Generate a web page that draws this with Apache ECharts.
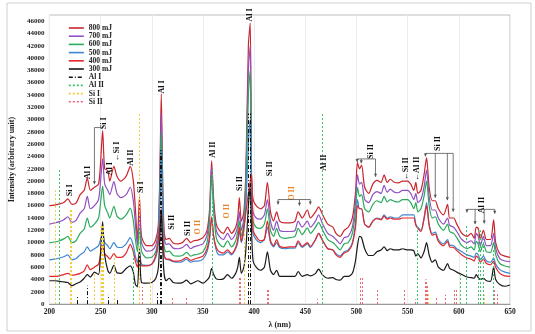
<!DOCTYPE html>
<html><head><meta charset="utf-8">
<script src="https://cdn.jsdelivr.net/npm/echarts@6/dist/echarts.min.js"></script>
<style>html,body{margin:0;padding:0;background:#fff}#c{width:535px;height:334px}</style>
</head><body><div id="c"></div>
<script>
// ---- data ----
const wl = [200,205,210,214,218,222,226,230,234,237,240,244,248,250,252,254,257,259,263,266,270,275,279,282,284,286,288,290,295,300,304,306.5,308.2,309.3,310.5,312,314,317,321,326,330,334,338,341,345,350,354,356.5,358.5,360.5,363,366,370,374,378,382,384,385.6,387.5,390,392,394.4,396.2,397.5,399,402,406,410,413,416,419,422,425,430,435,440,443,447,452,455,460,463,467,472,477,480,484,488,492,496,499,501,503,505,508,512,516,520,524,527,530,533,537,541,545,550,553,556,558,560,563,566,568.5,571,574,577,580,585,589,591,595,598,603,608,612,615,617,619,621,624,627,631,634,636,640,645,650];
const e800 = [16000,16100,16300,16500,17100,16200,16400,17800,18500,20500,18500,19000,19500,23000,28200,22000,21700,20000,22400,20800,20000,20800,22400,20000,15500,10500,17400,11000,9500,9500,10500,13000,24000,34200,22000,12000,10500,10700,9900,9800,10000,10700,10000,10300,10400,10800,12000,15500,23300,17000,13000,12000,11500,12500,11500,12500,14000,17300,13500,15000,22000,42000,45700,21000,17000,16000,15500,16000,19800,15000,13500,15000,13500,13200,13200,13500,15000,14000,15300,14000,15000,15800,14500,13000,12500,11500,11000,12000,12500,14000,18000,23000,22000,22600,19000,18000,19500,20100,19800,21000,19800,20300,19800,19700,20000,20000,19500,18500,19800,18000,18500,21000,23800,19000,16800,16800,15500,14500,16200,14000,14000,13000,11500,11000,11500,10700,12500,12300,10500,12000,10500,10500,13700,10000,8200,7800,7600];
const e700 = [13000,13200,13400,13700,14200,13300,13600,14800,15500,17500,15500,16000,17000,20000,23700,19500,18500,17800,19900,18000,17300,17800,19000,16800,13000,9500,14500,10000,8600,8700,9600,12000,22000,31000,20000,11000,9700,9800,9100,9000,9200,9700,9000,9300,9500,9800,11200,14500,22300,16000,12000,11000,10500,11500,10500,11500,12800,15000,12000,14000,20000,38000,42000,20000,15000,14000,13800,14500,17000,13500,12000,13500,12000,11800,11800,12000,13500,12500,13500,12500,13500,14500,13000,11500,11000,10500,9800,10800,11000,12500,16500,21000,19500,19800,17000,16500,17800,18300,18000,19300,18200,18700,18200,18100,18500,18500,18000,17000,18000,16500,17000,19000,21800,17500,15300,15300,14000,13000,14000,12800,12500,11800,10500,10000,10300,9800,11500,11000,9500,11000,9500,9500,11500,9000,7400,7000,6900];
const e600 = [10000,10100,10300,10600,11000,10000,10300,11500,12200,14000,12500,13000,14000,16500,19200,16000,14800,14000,15900,14300,13800,14500,15600,13500,10500,8500,12500,8600,7500,7600,8600,11000,20000,28000,18000,9500,8500,8600,7900,7800,7900,8400,7800,8000,8100,8500,10000,13500,21000,15000,10800,9800,9300,10300,9300,10300,11800,13500,11000,13000,19000,34000,38000,19000,13500,12500,12300,13000,15500,12000,11000,12300,11000,10700,10800,11000,12300,11300,12400,11500,12500,13300,12000,10500,10000,9500,8800,9800,10000,11500,15000,19000,17500,17800,15500,15000,16200,16800,16500,17500,16600,17000,16700,16600,17000,17000,16500,15500,16500,15000,15500,17500,20000,16000,14000,14200,13000,12000,13000,11800,11500,10800,9500,9000,9300,8800,10200,9700,8500,9800,8500,8400,10000,8000,6600,6200,6000];
const e500 = [7200,7300,7500,7700,8000,7200,7400,8000,8500,9300,8600,9000,9500,10500,11500,10000,9500,9000,10000,9300,9200,9800,10800,9500,7800,6800,8500,6500,6300,6500,7600,10000,18000,25000,15000,8000,7300,7200,6900,6800,6900,7300,6800,7000,7000,7300,8500,10500,14000,11000,8800,8000,8000,8500,8000,9000,10000,12000,10000,12000,16000,26000,30000,20000,11500,10500,10000,10500,12500,10000,9300,10000,9200,9000,9100,9100,10000,9200,9800,9200,10500,11500,10300,9000,8800,8200,7800,8500,8800,10000,13000,17000,15500,15500,13000,12500,13500,14000,13800,14500,14000,14200,14000,14000,14500,14500,14500,14500,13000,12500,12000,14000,16500,13000,11500,11700,10500,9800,10500,9600,9500,9000,8500,8000,7800,7600,8300,8000,7200,7800,7000,6800,7500,6500,5600,5200,5000];
const e400 = [4500,4500,4600,4800,5000,4700,4800,5000,5400,6400,5600,6000,6500,8000,9500,8200,7700,7300,8200,7600,7600,8300,9700,8500,7000,6000,8000,6200,6200,6500,8000,10500,13500,15500,12000,8000,7300,7300,7000,7000,7200,7600,7100,7300,7500,7800,9000,11000,14200,11000,9200,8500,8300,8800,8200,9200,10500,12500,10200,12500,15000,18000,20000,21000,12000,11000,10300,10500,13500,10300,9500,10500,9400,9200,9300,9300,10300,9400,10000,9400,10500,11500,10300,9000,8800,8000,7600,8300,8600,9800,12500,16000,15500,15500,13000,12500,13500,13900,13700,14300,13800,14000,13800,13800,14000,14000,14000,14000,12800,12300,11800,13800,16000,12800,11200,11400,10200,9500,10200,9300,9200,8700,8000,7500,7300,7000,7800,7500,6800,7300,6600,6400,7000,6000,5000,4600,4500];
const e300 = [3800,3800,3700,3600,3500,3000,3300,3600,4200,4800,4400,5200,4800,8500,13400,8000,5500,5000,6300,5100,5000,5800,6200,5200,3200,2800,9000,3500,3400,3500,4200,6000,12000,15000,10000,5000,3800,4200,3500,3400,3500,3900,3300,3500,3800,3400,3900,4500,5800,4800,4100,4000,4100,4800,4200,5000,6000,7600,5000,6000,9000,16000,19000,12000,7000,6000,5500,6000,8500,5500,4800,5500,4500,4500,4500,4500,5300,4500,4800,4600,5000,5700,4700,4200,4300,4000,3900,4500,4500,5000,7000,9500,11000,10800,9000,7900,7900,8500,8800,9300,8700,9000,8800,8800,9000,8800,8800,8700,7800,8200,7500,8500,10000,8000,6800,7200,6000,5500,6600,5800,5500,5200,4800,4400,4300,4200,4800,4300,4000,4200,3800,3700,6000,4000,3200,2900,3100];

// reference lines (wavelength, height)
const alI_wl  = [226.9,236.7,257.5,266.0,305.0,308.2,309.3,394.4,396.2];
const alI_h   = [1200,3000,1500,1000,1800,25000,25000,31000,31000];
const alII_wl = [210.0,281.6,358.7,466.3,559.3,601.0,606.8,618.5,620.6,624.3,633.6];
const alII_h  = [22000,9000,22000,31000,12700,5200,13000,12000,12000,10600,8800];
const siI_wl  = [205.8,220.8,221.1,221.7,243.5,250.7,251.4,251.9,252.4,252.9,263.1,288.2,298.8,390.5,568.0,570.0,625.0];
const siI_h   = [18500,15400,15400,15400,5000,13000,13000,13000,13000,13000,8000,31000,4600,12000,2500,2000,1500];
const siII_wl = [290.4,320.0,333.9,385.4,386.3,412.8,413.4,462.0,504.1,505.6,520.0,546.2,557.0,566.9,567.9,569.0,578.0,587.0,595.8,597.1,634.7,637.1];
const siII_h  = [2800,1300,1300,4500,4500,2500,2500,800,4400,4400,2300,2300,800,4000,4000,3000,1200,1500,2500,2500,2500,2000];

const xTicks = [200,250,300,350,400,450,500,550,600,650];
const seriesNames = ['800 mJ','700 mJ','600 mJ','500 mJ','400 mJ','300 mJ'];

// annotations: [text, wavelength, intensity, color]
const labels = [
 ['Si I',220,18500,'#111'],['Al I',238,21400,'#111'],['Si I',253,29400,'#111'],['Al I',259.4,22000,'#111'],
 ['←Si I',265.7,24800,'#111'],['Al II',279.7,23800,'#111'],['Si I',289.3,19000,'#111'],['Al I',309.5,35300,'#111'],
 ['Si II',319.5,13300,'#111'],['Si II',335.4,12300,'#111'],['O II',345.4,12500,'#e8862a'],['Al II',360,25100,'#111'],
 ['O II',373.6,15100,'#e8862a'],['Si II',385.9,19600,'#111'],['Al I',395.8,47000,'#111'],['Si II',415.4,22000,'#111'],
 ['O II',436.6,18000,'#e8862a'],['Al II',468.5,23000,'#111'],['Si II',514,24800,'#111'],['←Si II',548,22000,'#111'],
 ['←Al II',558.8,22000,'#111'],['Si II',579.5,26100,'#111'],['Al II',622.5,16100,'#111']
];
// brackets: horizontal level, [wavelength, arrow tip intensity] drops
const brackets = [
 {y:28700, drops:[[244,19500],[251.5,28700]]},
 {y:17000, drops:[[423.4,16200],[444.3,16000],[454.9,16200]]},
 {y:23600, drops:[[500.7,23100],[504.7,22900],[518.6,20700]]},
 {y:24500, drops:[[567.4,24000],[577,17300],[588.8,16900],[594.5,15000]]},
 {y:15400, drops:[[607.9,14900],[615.9,13000],[624.8,13100],[635.1,14700]]}
];

const colors = ['#c9252d','#9150c4','#2aab5c','#3f87d0','#e0282d','#1a1a1a'];
const values = [e800,e700,e600,e500,e400,e300];
const FONT = 'Liberation Serif';

const chart = echarts.init(document.getElementById('c'), null, {renderer:'canvas'});

function markerSeries(name, wls, hs, color, dash, width){
  return {
    name, type:'line', data:[], symbol:'none', color,
    lineStyle:{color, type:dash, width},
    markLine:{ silent:true, symbol:['none','none'], animation:false, label:{show:false},
      emphasis:{disabled:true},
      lineStyle:{color, type:dash, width, opacity:1},
      data: wls.map((w,i)=>[{coord:[w,0]},{coord:[w,hs[i]]}]) }
  };
}

const series = seriesNames.map((n,i)=>({
  name:n, type:'line', symbol:'none', smooth:0.25, color:colors[i],
  lineStyle:{width:1.2, color:colors[i]},
  emphasis:{disabled:true},
  data: wl.map((w,k)=>[w, values[i][k]])
}));
series.push(markerSeries('Al I', alI_wl, alI_h, '#111', [4,2,1,2], 1));
series.push(markerSeries('Al II', alII_wl, alII_h, '#3cc06a', [2,2], 1));
series.push(markerSeries('Si I', siI_wl, siI_h, '#f2cc3a', [2,2], 1));
series.push(markerSeries('Si II', siII_wl, siII_h, '#ec6470', [2,2], 1));

chart.setOption({
  animation:false,
  backgroundColor:'#fff',
  grid:{left:47, right:25, top:15, bottom:19, show:true, borderColor:'#bdbdbd', borderWidth:1, containLabel:false},
  legend:{
    orient:'vertical', left:63, top:19, itemWidth:15, itemHeight:6, itemGap:0.2,
    itemStyle:{opacity:0},
    lineStyle:{width:1.6},
    data: seriesNames.concat(['Al I','Al II','Si I','Si II']),
    textStyle:{fontFamily:FONT, fontWeight:'bold', fontSize:7.5, lineHeight:8, color:'#222'},
    selectedMode:false
  },
  xAxis:{
    type:'value', min:200, max:650, interval:50,
    name:'λ (nm)', nameLocation:'middle', nameGap:9,
    nameTextStyle:{fontFamily:FONT, fontWeight:'bold', fontSize:8, color:'#222'},
    axisLine:{show:true, lineStyle:{color:'#9a9a9a'}},
    axisTick:{show:false},
    axisLabel:{fontFamily:FONT, fontWeight:'bold', fontSize:7.5, color:'#222', margin:4,
      formatter:v=> xTicks.includes(v) ? String(v) : ''},
    splitLine:{show:true, lineStyle:{color:'#ececec', width:1}}
  },
  yAxis:{
    type:'value', min:0, max:47000, interval:2000,
    name:'Intensity (arbitrary unit)', nameLocation:'middle', nameGap:28,
    nameTextStyle:{fontFamily:FONT, fontWeight:'bold', fontSize:8, color:'#222'},
    axisLine:{show:false}, axisTick:{show:false},
    axisLabel:{fontFamily:FONT, fontWeight:'bold', fontSize:7, color:'#222', margin:5, showMaxLabel:false,
      formatter:v=>String(v)},
    splitLine:{show:false}
  },
  series
});

// annotations positioned from data coordinates
const g = [];
g.push({type:'rect', shape:{x:7,y:3,width:524,height:328}, style:{fill:'none', stroke:'#cfcfcf', lineWidth:1}, z:0, silent:true});
const P = (w,v)=>chart.convertToPixel({gridIndex:0},[w,v]);
labels.forEach(([t,w,v,c])=>{
  const p = P(w,v);
  g.push({type:'text', x:p[0], y:p[1], rotation:Math.PI/2, z:100, silent:true,
    style:{text:t, fill:c, font:'bold 8px "Liberation Serif"', align:'center', verticalAlign:'middle'}});
});
brackets.forEach(b=>{
  const xs = b.drops.map(d=>d[0]);
  const a = P(Math.min(...xs), b.y), e = P(Math.max(...xs), b.y);
  g.push({type:'line', shape:{x1:a[0],y1:a[1],x2:e[0],y2:e[1]}, style:{stroke:'#555', lineWidth:0.8}, z:100, silent:true});
  b.drops.forEach(([w,v])=>{
    const top = P(w,b.y), tip = P(w,v);
    if (tip[1]-top[1] < 1) return;
    g.push({type:'line', shape:{x1:top[0],y1:top[1],x2:tip[0],y2:tip[1]}, style:{stroke:'#555', lineWidth:0.8}, z:100, silent:true});
    g.push({type:'polygon', shape:{points:[[tip[0]-1.6,tip[1]-3],[tip[0]+1.6,tip[1]-3],[tip[0],tip[1]]]}, style:{fill:'#555'}, z:100, silent:true});
  });
});
chart.setOption({graphic:g});
</script></body></html>
